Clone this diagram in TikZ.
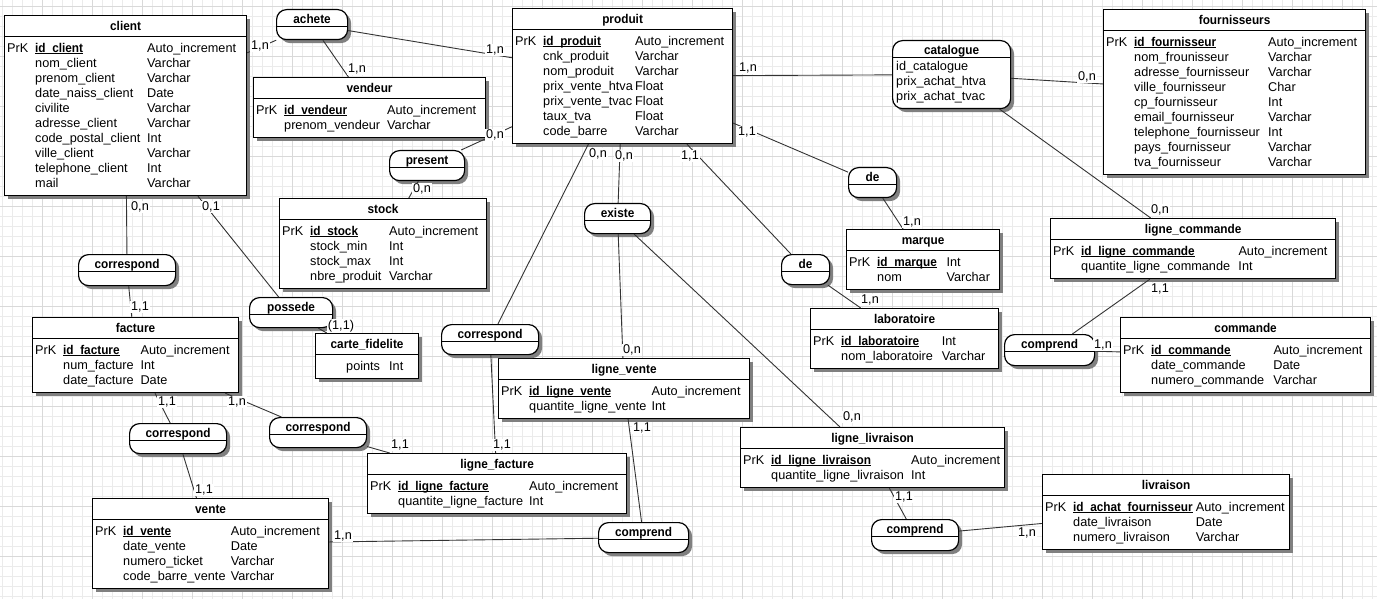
\documentclass[tikz,border=0pt]{standalone}
\usepackage{fontspec}
\setmainfont{Liberation Sans}
\newfontfamily\bfn{Liberation Sans Bold}[FakeStretch=0.93]
\usetikzlibrary{calc,shadows}
\setlength{\tabcolsep}{0pt}
\newcommand{\pk}[1]{\leavevmode\setbox0\hbox{\bfn #1}\rlap{\rule[-2pt]{\wd0}{1pt}}\box0}
% name, left, top, width, rows, title, col2 width, body
\newcommand{\entbox}[8]{%
  \node[ent, minimum width=#4pt, minimum height={(30+15*#5)*1pt}, anchor=north west] (#1) at (#2,#3) {};
  \draw[sepl] ($(#1.north west)+(0,21.5)$) -- ($(#1.north east)+(0,21.5)$);
  \node[ttl, anchor=base] (#1-t) at ($(#1.north)+(0,15.5)$) {#6};
  \node[attr, anchor=north west] (#1-a) at ($(#1.north west)+(3,26.5)$)
    {\begin{tabular}{@{}p{28pt}p{#7pt}l@{}}#8\end{tabular}};
}
% name, left, top, width, height, title
\newcommand{\relbox}[6]{%
  \node[rel, minimum width=#4pt, minimum height=#5pt, anchor=north west] (#1) at (#2,#3) {};
  \draw[sepl] ($(#1.north west)+(0,17.5)$) -- ($(#1.north east)+(0,17.5)$);
  \node[ttl, anchor=base] (#1-t) at ($(#1.north)+(0,14.5)$) {#6};
}
\begin{document}
\begin{tikzpicture}[x=1pt,y=-1pt,
  font=\fontsize{12.7}{15}\selectfont,
  shad/.style={drop shadow={shadow xshift=3.5pt, shadow yshift=-3.5pt, opacity=1, fill=black!50}},
  ent/.style={draw, fill=white, line width=1.2pt, inner sep=0pt, shad},
  rel/.style={draw, fill=white, line width=1.2pt, inner sep=0pt, rounded corners=10pt, shad},
  sepl/.style={line width=1pt},
  ttl/.style={inner sep=0pt, font=\fontsize{12.7}{15}\selectfont\bfn},
  attr/.style={inner sep=0pt},
  conn/.style={draw=black!80, line width=0.9pt},
  card/.style={fill=white, inner sep=1pt},
  gmin/.style={draw=black!8, line width=0.8pt},
  gmaj/.style={draw=black!15, line width=0.8pt}]
\useasboundingbox (0,0) rectangle (1377,599);
\fill[white] (0,0) rectangle (1377,599);
% grid
\foreach \x in {2.7,12.7,...,1377} \draw[gmin] (\x,0) -- (\x,599);
\foreach \y in {6.7,16.7,...,599} \draw[gmin] (0,\y) -- (1377,\y);
\foreach \x in {42.7,92.7,...,1377} \draw[gmaj] (\x,0) -- (\x,599);
\foreach \y in {6.7,56.7,...,599} \draw[gmaj] (0,\y) -- (1377,\y);

% entities
\entbox{client}{4}{15}{242}{10}{client}{112}{PrK & \pk{id\_client} & Auto\_increment\\
 & nom\_client & Varchar\\
 & prenom\_client & Varchar\\
 & date\_naiss\_client & Date\\
 & civilite & Varchar\\
 & adresse\_client & Varchar\\
 & code\_postal\_client & Int\\
 & ville\_client & Varchar\\
 & telephone\_client & Int\\
 & mail & Varchar}
\entbox{vendeur}{253}{77}{232}{2}{vendeur}{103}{PrK & \pk{id\_vendeur} & Auto\_increment\\
 & prenom\_vendeur & Varchar}
\entbox{produit}{512}{8}{220}{7}{produit}{92}{PrK & \pk{id\_produit} & Auto\_increment\\
 & cnk\_produit & Varchar\\
 & nom\_produit & Varchar\\
 & prix\_vente\_htva & Float\\
 & prix\_vente\_tvac & Float\\
 & taux\_tva & Float\\
 & code\_barre & Varchar}
\entbox{fourn}{1103}{9}{262}{9}{fournisseurs}{134}{PrK & \pk{id\_fournisseur} & Auto\_increment\\
 & nom\_frounisseur & Varchar\\
 & adresse\_fournisseur & Varchar\\
 & ville\_fournisseur & Char\\
 & cp\_fournisseur & Int\\
 & email\_fournisseur & Varchar\\
 & telephone\_fournisseur & Int\\
 & pays\_fournisseur & Varchar\\
 & tva\_fournisseur & Varchar}
\entbox{stock}{279}{198}{207}{4}{stock}{79}{PrK & \pk{id\_stock} & Auto\_increment\\
 & stock\_min & Int\\
 & stock\_max & Int\\
 & nbre\_produit & Varchar}
\entbox{facture}{32}{317}{206}{3}{facture}{77.4}{PrK & \pk{id\_facture} & Auto\_increment\\
 & num\_facture & Int\\
 & date\_facture & Date}
\entbox{carte}{315}{333}{103}{1}{carte\_fidelite}{43}{ & points & Int}
\entbox{marque}{846}{229}{153}{2}{marque}{69.3}{PrK & \pk{id\_marque} & Int\\
 & nom & Varchar}
\entbox{labo}{810}{308}{188}{2}{laboratoire}{100.7}{PrK & \pk{id\_laboratoire} & Int\\
 & nom\_laboratoire & Varchar}
\entbox{lvente}{498}{358}{251}{2}{ligne\_vente}{122.4}{PrK & \pk{id\_ligne\_vente} & Auto\_increment\\
 & quantite\_ligne\_vente & Int}
\entbox{lcmd}{1050}{218}{285}{2}{ligne\_commande}{157.3}{PrK & \pk{id\_ligne\_commande} & Auto\_increment\\
 & quantite\_ligne\_commande & Int}
\entbox{commande}{1120}{317}{250}{3}{commande}{122.3}{PrK & \pk{id\_commande} & Auto\_increment\\
 & date\_commande & Date\\
 & numero\_commande & Varchar}
\entbox{vente}{92}{498}{236}{4}{vente}{107.7}{PrK & \pk{id\_vente} & Auto\_increment\\
 & date\_vente & Date\\
 & numero\_ticket & Varchar\\
 & code\_barre\_vente & Varchar}
\entbox{lfact}{367}{453}{259}{2}{ligne\_facture}{131}{PrK & \pk{id\_ligne\_facture} & Auto\_increment\\
 & quantite\_ligne\_facture & Int}
\entbox{llivr}{740}{427}{264}{2}{ligne\_livraison}{140}{PrK & \pk{id\_ligne\_livraison} & Auto\_increment\\
 & quantite\_ligne\_livraison & Int}
\entbox{livraison}{1042}{474}{247}{3}{livraison}{122.6}{PrK & \pk{id\_achat\_fournisseur} & Auto\_increment\\
 & date\_livraison & Date\\
 & numero\_livraison & Varchar}

% relations
\relbox{achete}{276}{9}{71}{30}{achete}
\relbox{present}{389}{150}{75}{30}{present}
\relbox{possede}{249}{297}{83}{30}{possede}
\relbox{corA}{78}{254}{97}{31}{correspond}
\relbox{existe}{584}{203}{66}{30}{existe}
\relbox{deL}{781}{254}{48}{30}{de}
\relbox{deU}{848}{167}{48}{30}{de}
\relbox{corM}{441}{324}{97}{30}{correspond}
\relbox{compR}{1004}{334}{90}{31}{comprend}
\relbox{corFV}{129}{423}{97}{30}{correspond}
\relbox{corFLF}{269}{417}{97}{30}{correspond}
\relbox{compBM}{598}{522}{90}{30}{comprend}
\relbox{compBR}{871}{519}{87}{31}{comprend}
\relbox{catalogue}{892}{40}{118}{68}{catalogue}
\node[attr, anchor=north west] (catalogue-a) at ($(catalogue.north west)+(4,19.5)$)
  {\begin{tabular}{@{}l@{}}id\_catalogue\\prix\_achat\_htva\\prix\_achat\_tvac\end{tabular}};

% connectors
\draw[conn] (client) -- (achete);
\draw[conn] (achete) -- (produit);
\draw[conn] (achete) -- (vendeur);
\draw[conn] (present) -- (produit);
\draw[conn] (present) -- (stock);
\draw[conn] (client) -- (corA);
\draw[conn] (corA) -- (facture);
\draw[conn] (client) -- (possede);
\draw[conn] (possede) -- (carte);
\draw[conn] (facture) -- (corFV);
\draw[conn] (corFV) -- (vente);
\draw[conn] (facture) -- (corFLF);
\draw[conn] (corFLF) -- (lfact);
\draw[conn] (produit) -- (corM);
\draw[conn] (corM) -- (lfact);
\draw[conn] (produit) -- (existe);
\draw[conn] (existe) -- (lvente);
\draw[conn] (existe) -- (llivr);
\draw[conn] (produit) -- (deL);
\draw[conn] (deL) -- (labo);
\draw[conn] (produit) -- (deU);
\draw[conn] (deU) -- (marque);
\draw[conn] (produit) -- (catalogue);
\draw[conn] (catalogue) -- (fourn);
\draw[conn] (catalogue) -- (lcmd);
\draw[conn] (lcmd) -- (compR);
\draw[conn] (compR) -- (commande);
\draw[conn] (lvente) -- (compBM);
\draw[conn] (vente) -- (compBM);
\draw[conn] (llivr) -- (compBR);
\draw[conn] (compBR) -- (livraison);

% cardinalities
\node[card] (c1) at (260,46) {1,n};
\node[card] (c2) at (495,50) {1,n};
\node[card] (c3) at (357,69) {1,n};
\node[card] (c4) at (495,135) {0,n};
\node[card] (c5) at (422,189) {0,n};
\node[card] (c6) at (140,207) {0,n};
\node[card] (c7) at (140,307) {1,1};
\node[card] (c8) at (211,207) {0,1};
\node[card] (c9) at (341,326) {(1,1)};
\node[card] (c10) at (167,402) {1,1};
\node[card] (c11) at (204,490) {1,1};
\node[card] (c12) at (237,402) {1,n};
\node[card] (c13) at (400,445) {1,1};
\node[card] (c14) at (598,154) {0,n};
\node[card] (c15) at (502,445) {1,1};
\node[card] (c16) at (624,156) {0,n};
\node[card] (c17) at (632,350) {0,n};
\node[card] (c18) at (852,417) {0,n};
\node[card] (c19) at (690,156) {1,1};
\node[card] (c20) at (870,300) {1,n};
\node[card] (c21) at (747,132) {1,1};
\node[card] (c22) at (912,222) {1,n};
\node[card] (c23) at (748,68) {1,n};
\node[card] (c24) at (1087,77) {0,n};
\node[card] (c25) at (1160,210) {0,n};
\node[card] (c26) at (1160,289) {1,1};
\node[card] (c27) at (1103,345) {1,n};
\node[card] (c28) at (642,428) {1,1};
\node[card] (c29) at (343,536) {1,n};
\node[card] (c30) at (904,497) {1,1};
\node[card] (c31) at (1027,533) {1,n};
\end{tikzpicture}
\end{document}
